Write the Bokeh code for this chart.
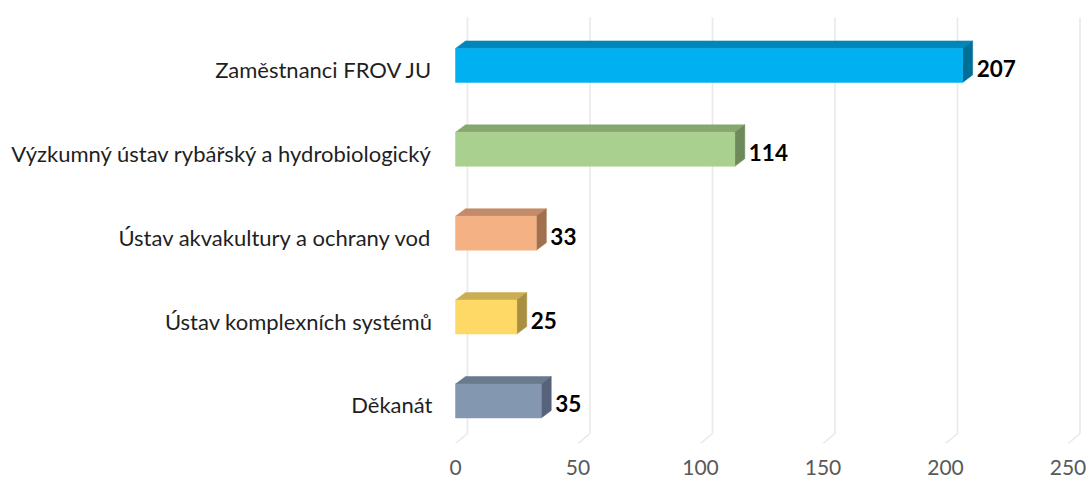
from bokeh.plotting import figure
from bokeh.models import FixedTicker, Range1d
from bokeh.core.properties import value
from bokeh.embed import file_html
from bokeh.resources import INLINE

# ---- data (bottom to top) ----
categories = [
    "Děkanát",
    "Ústav komplexních systémů",
    "Ústav akvakultury a ochrany vod",
    "Výzkumný ústav rybářský a hydrobiologický",
    "Zaměstnanci FROV JU",
]
counts = [35, 25, 33, 114, 207]
x_ticks = [0, 50, 100, 150, 200, 250]

front_colors = ["#8497B0", "#FFD966", "#F4B183", "#A9D08E", "#00B0F0"]
top_colors = ["#69798E", "#CCAE52", "#C48B68", "#86A86E", "#0087B9"]
side_colors = ["#56637A", "#A89040", "#A0704F", "#6E8A5A", "#006F98"]

# ---- geometry (pixel scale of the frame) ----
W, H = 1086, 482
PX_X = 2.45      # px per value unit
PX_Y = 83.9      # px per category step
bar_h = 34 / PX_Y
dx = 10 / PX_X   # bar depth offset
dy = 7.5 / PX_Y
gx = 12 / PX_X   # back wall offset for grid
gy = 10 / PX_Y

y0 = -0.507
y1 = 4.607
x0 = -10 / PX_X
x1 = 629 / PX_X

p = figure(width=W, height=H, output_backend="svg", toolbar_location=None,
           x_range=Range1d(x0, x1), y_range=Range1d(y0, y1),
           min_border_left=445, min_border_right=2, min_border_top=14,
           min_border_bottom=39)
p.outline_line_color = None
p.xgrid.visible = False
p.ygrid.visible = False
p.background_fill_color = "white"

# ---- slanted grid lines (back wall + floor) ----
y_floor_back = y0 + gy
y_top = y1 - 3 / PX_Y
p.segment(x0=[t + gx for t in x_ticks], y0=[y_floor_back] * len(x_ticks),
          x1=[t + gx for t in x_ticks], y1=[y_top] * len(x_ticks),
          line_color="#E9E9E9", line_width=1.6)
p.segment(x0=[t + gx for t in x_ticks], y0=[y_floor_back] * len(x_ticks),
          x1=[t for t in x_ticks], y1=[y0] * len(x_ticks),
          line_color="#E9E9E9", line_width=1.6)

# ---- 3D bars ----
ys = list(range(len(categories)))
top_xs, top_ys, side_xs, side_ys = [], [], [], []
for i, v in zip(ys, counts):
    yt = i + bar_h / 2
    yb = i - bar_h / 2
    top_xs.append([0, v, v + dx, dx])
    top_ys.append([yt, yt, yt + dy, yt + dy])
    side_xs.append([v, v, v + dx, v + dx])
    side_ys.append([yb, yt, yt + dy, yb + dy])

p.patches(xs=top_xs, ys=top_ys, fill_color=top_colors, line_color=top_colors, line_width=0.5)
p.patches(xs=side_xs, ys=side_ys, fill_color=side_colors, line_color=side_colors, line_width=0.5)
p.hbar(y=ys, left=0, right=counts, height=bar_h, fill_color=front_colors,
       line_color=front_colors, line_width=0.5)

# ---- value labels ----
p.text(x=[v + dx + 4 / PX_X for v in counts], y=[i - 3 / PX_Y for i in ys],
       text=[str(v) for v in counts], text_font=value("Lato"),
       text_font_style="bold", text_font_size="22.5px", text_color="#000000",
       text_baseline="middle", text_align="left")

# ---- axes ----
xa = p.xaxis[0]
xa.ticker = FixedTicker(ticks=x_ticks)
xa.axis_line_color = None
xa.major_tick_line_color = None
xa.minor_tick_line_color = None
xa.major_label_text_font = "Lato"
xa.major_label_text_font_size = "21px"
xa.major_label_text_color = "#595959"
xa.major_label_standoff = 10

ya = p.yaxis[0]
label_off = 4 / PX_Y
ytick_pos = [i - label_off for i in ys]
ya.ticker = FixedTicker(ticks=ytick_pos)
ya.major_label_overrides = {t: c for t, c in zip(ytick_pos, categories)}
ya.axis_line_color = None
ya.major_tick_line_color = None
ya.minor_tick_line_color = None
ya.major_label_text_font = "Lato"
ya.major_label_text_font_size = "22px"
ya.major_label_text_color = "#1F1F1F"
ya.major_label_standoff = 7

open("out.html", "w").write(file_html(p, INLINE))
